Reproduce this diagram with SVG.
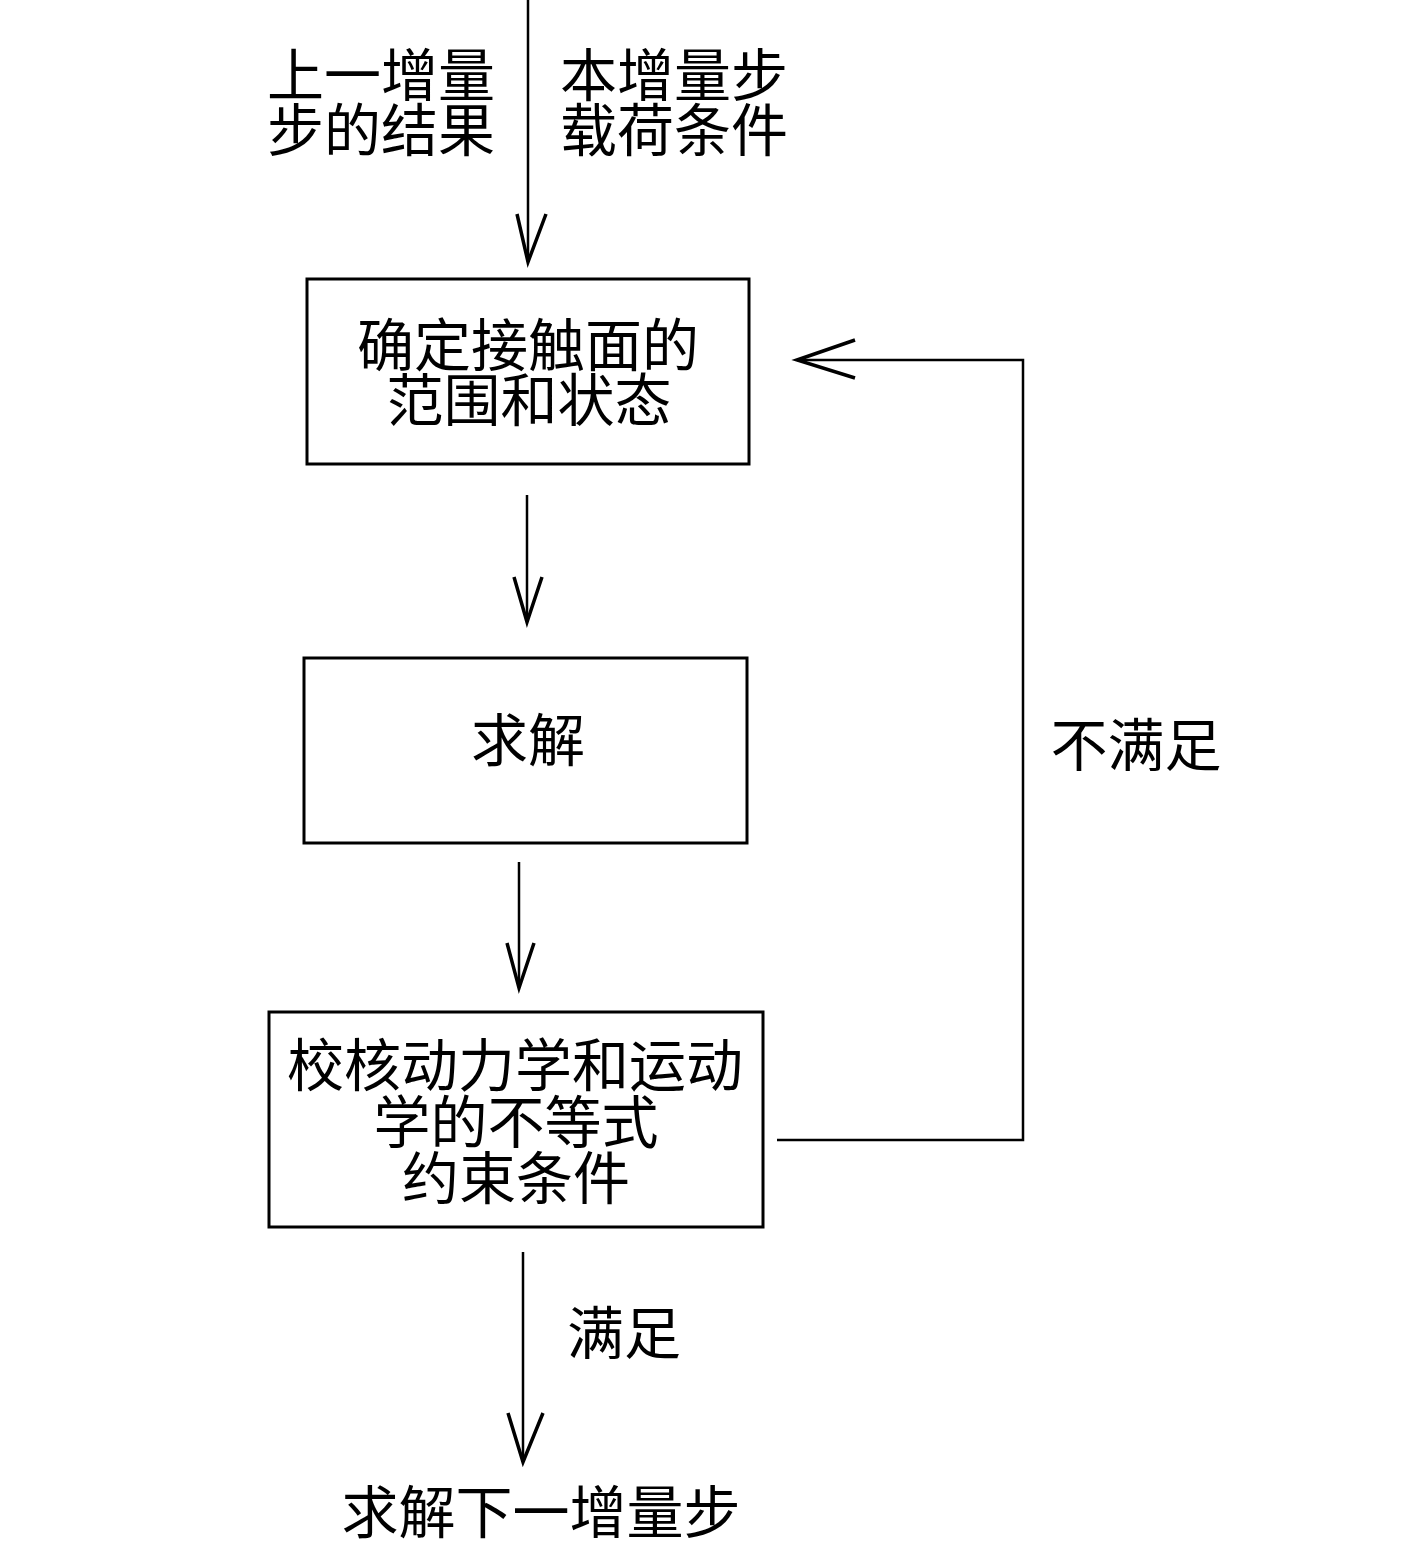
<svg xmlns="http://www.w3.org/2000/svg" width="1417" height="1541" viewBox="0 0 1417 1541">
<style>
.box{fill:none;stroke:#000;stroke-width:3}
.ln{fill:none;stroke:#000;stroke-width:2.5}
.ah{fill:none;stroke:#000;stroke-width:3.5;stroke-linejoin:miter}
text{font-family:"Noto Sans CJK SC","Noto Sans CJK JP",sans-serif;font-size:57px;fill:#000;text-anchor:middle}
</style>
<rect width="1417" height="1541" fill="#fff"/>
<g id="connectors">
<line class="ln" x1="528" y1="0" x2="528" y2="262"/>
<polyline class="ah" points="517,214 528,262 546,214"/>
<line class="ln" x1="527" y1="495" x2="527" y2="622"/>
<polyline class="ah" points="514,577 527,622 542,577"/>
<line class="ln" x1="519" y1="862" x2="519" y2="988"/>
<polyline class="ah" points="507,943 519,988 534,943"/>
<polyline class="ln" points="777,1140 1023,1140 1023,360 797,360"/>
<polyline class="ah" points="855,340 797,360 855,378"/>
<line class="ln" x1="523" y1="1252" x2="523" y2="1462"/>
<polyline class="ah" points="508,1413 523,1462 543,1413"/>
</g>
<g id="label-prev">
<text x="381" y="96">上一增量</text>
<text x="381" y="151">步的结果</text>
</g>
<g id="label-load">
<text x="674" y="96">本增量步</text>
<text x="674" y="151">载荷条件</text>
</g>
<g id="node1">
<rect class="box" x="307" y="279" width="442" height="185"/>
<text x="528" y="366">确定接触面的</text>
<text x="529" y="421">范围和状态</text>
</g>
<g id="node2">
<rect class="box" x="304" y="658" width="443" height="185"/>
<text x="528" y="761">求解</text>
</g>
<g id="node3">
<rect class="box" x="269" y="1012" width="494" height="215"/>
<text x="515" y="1086">校核动力学和运动</text>
<text x="516" y="1143">学的不等式</text>
<text x="516" y="1199">约束条件</text>
</g>
<g id="label-notsat">
<text x="1136" y="766">不满足</text>
</g>
<g id="label-sat">
<text x="624" y="1354">满足</text>
</g>
<g id="node-next">
<text x="541" y="1533">求解下一增量步</text>
</g>
</svg>
